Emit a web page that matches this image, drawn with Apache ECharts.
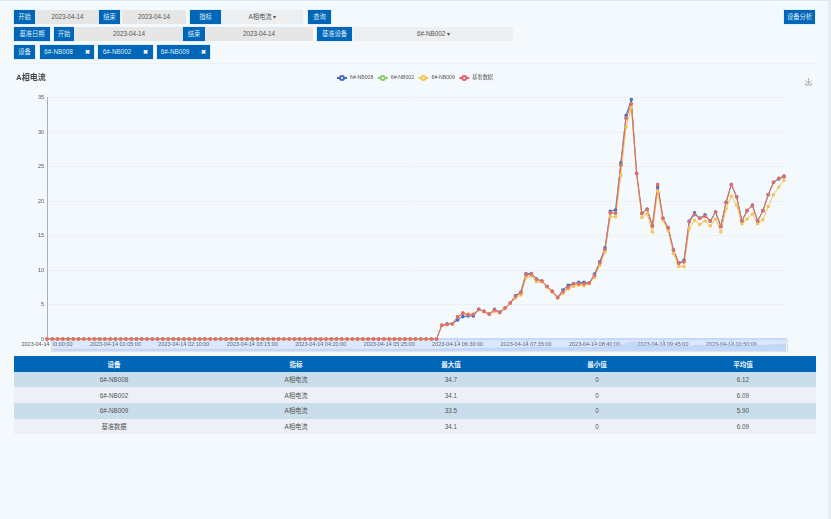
<!DOCTYPE html>
<html>
<head>
<meta charset="utf-8">
<script src="https://cdn.jsdelivr.net/npm/echarts@6/dist/echarts.min.js"></script>
<style>
  html, body { margin: 0; padding: 0; width: 831px; height: 519px; overflow: hidden; background: #f4f9fd; }
  body { font-family: "Liberation Sans", "Noto Sans CJK SC", sans-serif; color: #555; font-size: 6.3px; }
  .edge-top { position: absolute; left: 0; top: 0; width: 831px; height: 1px; background: #e3e8ed; }
  .edge-right { position: absolute; left: 828px; top: 0; width: 3px; height: 519px; background: #e8edf2; }
  .sep { position: absolute; left: 14px; top: 63px; width: 802px; height: 1px; background: #eef2f6; }
  .box { position: absolute; height: 14px; line-height: 14px; text-align: center; white-space: nowrap; }
  .btn { background: #0067b8; color: #dfeaf5; box-shadow: 0 0 0 .5px #cfe2f5; }
  .inp { background: #e6e6e6; color: #555; }
  .sel { background: #eceef0; color: #555; }
  .tag b { color: #fff; margin-left: 12px; font-size: 6px; }
  #chart { position: absolute; left: 0; top: 64px; width: 831px; height: 291px; }
  table { position: absolute; left: 14px; top: 355.5px; width: 802px; border-collapse: collapse; table-layout: fixed; }
  th { background: #0067b8; color: #f0f6fc; height: 16px; padding: 0; font-weight: 700; font-size: 6.5px; }
  td { height: 15.7px; padding: 0; text-align: center; font-size: 6.3px; color: #555; }
  tr:nth-child(odd) td { background: #c9ddea; }
  tr:nth-child(even) td { background: #edf1f7; }
</style>
</head>
<body>
<div class="edge-top"></div>
<div class="edge-right"></div>
<div class="sep"></div>
<div id="toolbar"></div>
<div id="chart"></div>
<table id="stats"></table>
<script>
var seriesNames = ['6#-NB008', '6#-NB002', '6#-NB009', '基准数据']
var seriesColors = ['#4a68c4', '#8fc96a', '#f5c453', '#e8636b']

var startHour = 0
var stepMinutes = 5
var pointCount = 141

var nb008 = [
  0,0,0,0,0,0,0,0,0,0,0,0,0,0,0,0,0,0,0,0,0,0,0,0,0,
  0,0,0,0,0,0,0,0,0,0,0,0,0,0,0,0,0,0,0,0,0,0,0,0,0,
  0,0,0,0,0,0,0,0,0,0,0,0,0,0,0,0,0,0,0,0,0,0,0,0,0,
  2.0,2.2,2.2,2.75,3.25,3.35,3.35,4.3,4.0,3.6,4.3,3.9,4.5,5.2,6.3,6.8,
  9.45,9.5,8.7,8.4,7.6,6.9,6.0,7.1,7.8,8.0,8.2,8.2,8.1,9.4,11.2,13.2,
  18.5,18.7,25.5,32.4,34.7,24.0,18.2,18.8,16.4,22.0,17.5,16.1,12.9,11.0,11.4,
  17.1,18.3,17.5,18.0,17.1,18.4,16.3,19.8,22.4,20.6,17.1,18.6,19.4,17.1,18.6,
  20.9,22.7,23.2,23.5
]
var nb002 = [
  0,0,0,0,0,0,0,0,0,0,0,0,0,0,0,0,0,0,0,0,0,0,0,0,0,
  0,0,0,0,0,0,0,0,0,0,0,0,0,0,0,0,0,0,0,0,0,0,0,0,0,
  0,0,0,0,0,0,0,0,0,0,0,0,0,0,0,0,0,0,0,0,0,0,0,0,0,
  2.0,2.1,2.2,3.2,3.75,3.5,3.55,4.3,4.0,3.6,4.2,3.85,4.5,5.2,6.2,6.7,
  9.3,9.4,8.65,8.4,7.6,6.9,6.0,6.85,7.5,8.0,8.0,8.0,8.1,9.2,11.0,13.0,
  18.3,18.25,25.2,32.0,34.1,24.0,18.2,18.8,16.4,22.4,17.5,16.1,12.9,11.0,11.2,
  17.0,18.05,17.5,17.8,17.1,18.4,16.3,19.8,22.4,20.6,17.1,18.6,19.3,17.1,18.6,
  20.9,22.7,23.3,23.6
]
var nb009 = [
  0,0,0,0,0,0,0,0,0,0,0,0,0,0,0,0,0,0,0,0,0,0,0,0,0,
  0,0,0,0,0,0,0,0,0,0,0,0,0,0,0,0,0,0,0,0,0,0,0,0,0,
  0,0,0,0,0,0,0,0,0,0,0,0,0,0,0,0,0,0,0,0,0,0,0,0,0,
  2.0,2.1,2.2,3.2,3.75,3.6,3.6,4.3,4.0,3.6,4.0,3.8,4.4,5.1,5.9,6.4,
  8.9,9.1,8.3,8.3,7.5,6.8,5.9,6.6,7.2,7.6,7.8,7.7,8.0,8.9,10.7,12.6,
  17.7,17.7,23.7,30.7,33.5,24.0,17.6,18.2,15.5,21.4,17.2,15.7,12.4,10.5,10.5,
  16.0,17.2,16.6,17.1,16.4,17.4,15.5,18.9,20.7,19.4,16.7,17.4,18.1,16.7,17.3,
  19.2,20.9,22.0,23.0
]
var baseline = [
  0,0,0,0,0,0,0,0,0,0,0,0,0,0,0,0,0,0,0,0,0,0,0,0,0,
  0,0,0,0,0,0,0,0,0,0,0,0,0,0,0,0,0,0,0,0,0,0,0,0,0,
  0,0,0,0,0,0,0,0,0,0,0,0,0,0,0,0,0,0,0,0,0,0,0,0,0,
  2.0,2.1,2.2,3.2,3.75,3.5,3.55,4.3,4.0,3.6,4.2,3.85,4.5,5.2,6.2,6.7,
  9.3,9.4,8.65,8.4,7.6,6.9,6.0,6.85,7.5,8.0,8.0,8.0,8.1,9.2,11.0,13.0,
  18.3,18.25,25.2,32.0,34.1,24.0,18.2,18.8,16.4,22.4,17.5,16.1,12.9,11.0,11.2,
  17.0,18.05,17.5,17.8,17.1,18.4,16.3,19.8,22.4,20.6,17.1,18.6,19.3,17.1,18.6,
  20.9,22.7,23.3,23.6
]

var tableHead = ['设备', '指标', '最大值', '最小值', '平均值']
var tableRows = [
  ['6#-NB008', 'A相电流', '34.7', '0', '6.12'],
  ['6#-NB002', 'A相电流', '34.1', '0', '6.09'],
  ['6#-NB009', 'A相电流', '33.5', '0', '5.90'],
  ['基准数据', 'A相电流', '34.1', '0', '6.09']
]
var columnWidths = [200, 164, 146, 146, 146]

// left, top, width, class, text
var toolbarItems = [
  [14, 9.5, 21, 'btn', '开始'], [36, 9.5, 63, 'inp', '2023-04-14'], [99, 9.5, 21, 'btn', '结束'], [122, 9.5, 64, 'inp', '2023-04-14'],
  [190, 9.5, 31, 'btn', '指标'], [222, 9.5, 81, 'sel', 'A相电流 ▾'], [308, 9.5, 23, 'btn', '查询'], [784, 9.5, 31, 'btn', '设备分析'],
  [14, 27, 36, 'btn', '基准日期'], [54, 27, 20, 'btn', '开始'], [75, 27, 108, 'inp', '2023-04-14'], [183, 27, 22, 'btn', '结束'],
  [205, 27, 108, 'inp', '2023-04-14'], [317, 27, 35, 'btn', '基准设备'], [354, 27, 159, 'sel', '6#-NB002 ▾'],
  [14, 45, 21, 'btn', '设备'], [40, 45, 54, 'btn tag', '6#-NB008<b>✖</b>'], [98, 45, 55, 'btn tag', '6#-NB002<b>✖</b>'], [157, 45, 53, 'btn tag', '6#-NB009<b>✖</b>']
]

var toolbar = document.getElementById('toolbar')
toolbarItems.forEach(function (item) {
  var el = document.createElement('div')
  el.className = 'box ' + item[3]
  el.style.left = item[0] + 'px'
  el.style.top = item[1] + 'px'
  el.style.width = item[2] + 'px'
  el.innerHTML = item[4]
  toolbar.appendChild(el)
})

var html = '<colgroup>' + columnWidths.map(function (w) { return '<col style="width:' + w + 'px">' }).join('') + '</colgroup>'
html += '<thead><tr>' + tableHead.map(function (t) { return '<th>' + t + '</th>' }).join('') + '</tr></thead><tbody>'
tableRows.forEach(function (row) {
  html += '<tr>' + row.map(function (t) { return '<td>' + t + '</td>' }).join('') + '</tr>'
})
document.getElementById('stats').innerHTML = html + '</tbody>'

var times = []
for (var i = 0; i < pointCount; i++) {
  var mins = startHour * 60 + i * stepMinutes
  var hh = String(Math.floor(mins / 60)).padStart(2, '0')
  var mm = String(mins % 60).padStart(2, '0')
  times.push('2023-04-14 ' + hh + ':' + mm + ':00')
}

var allValues = [nb008, nb002, nb009, baseline]
var fontFamily = '"Liberation Sans", "Noto Sans CJK SC", sans-serif'

var myChart = echarts.init(document.getElementById('chart'))
myChart.setOption({
  animation: false,
  color: seriesColors,
  title: {
    text: 'A相电流',
    left: 16,
    top: 10,
    padding: 0,
    textStyle: { fontSize: 8, fontWeight: 'bold', color: '#464646', fontFamily: fontFamily }
  },
  legend: {
    data: seriesNames,
    top: 11,
    left: 336,
    padding: 0,
    itemWidth: 10,
    itemHeight: 5,
    itemGap: 3.4,
    textStyle: { fontSize: 5.2, color: '#555', fontFamily: fontFamily, padding: [0, 0, 0, -2] }
  },
  toolbox: {
    right: 17,
    top: 11.5,
    padding: 0,
    itemSize: 7,
    iconStyle: { borderColor: '#a8a8a8' },
    feature: { saveAsImage: { show: true, title: '' } }
  },
  grid: { left: 47, right: 47, top: 33.5, bottom: 16 },
  xAxis: {
    type: 'category',
    boundaryGap: false,
    data: times,
    axisLine: { lineStyle: { color: '#aab1bc', width: 1 } },
    axisTick: { interval: 12, length: 3, lineStyle: { color: '#aab1bc' } },
    axisLabel: { interval: 12, fontSize: 5.5, color: '#555', margin: 3, fontFamily: fontFamily, hideOverlap: false, showMinLabel: true }
  },
  yAxis: {
    type: 'value',
    min: 0,
    max: 35,
    interval: 5,
    axisLine: { show: true, lineStyle: { color: '#aab1bc', width: 1 } },
    axisTick: { show: false },
    axisLabel: { fontSize: 5.5, color: '#555', margin: 3, fontFamily: fontFamily },
    splitLine: { lineStyle: { color: '#edf1f5', width: 1 } }
  },
  dataZoom: [{
    type: 'slider',
    xAxisIndex: 0,
    start: 0,
    end: 100,
    left: 48.5,
    right: 46,
    top: 274,
    height: 12,
    showDetail: false,
    borderColor: '#d5ddec',
    backgroundColor: 'rgba(0,0,0,0)',
    fillerColor: 'rgba(120,165,250,0.2)',
    handleIcon: 'path://M0,0H1V9H0Z',
    handleSize: '110%',
    handleStyle: { color: '#fff', borderColor: '#c4cedd', borderWidth: 0.5 },
    moveHandleSize: 2,
    moveHandleStyle: { color: '#c8d8f8', opacity: 1 },
    dataBackground: {
      lineStyle: { color: '#c5d6f5', width: 0.5 },
      areaStyle: { color: '#b8cdf5', opacity: 0.5 }
    },
    selectedDataBackground: {
      lineStyle: { color: '#c5d6f5', width: 0.5 },
      areaStyle: { color: '#b8cdf5', opacity: 0.5 }
    }
  }],
  series: seriesNames.map(function (name, idx) {
    return {
      name: name,
      type: 'line',
      z: 5,
      data: allValues[idx],
      symbol: 'emptyCircle',
      symbolSize: 1.6,
      showAllSymbol: true,
      lineStyle: { width: 1 },
      itemStyle: { borderWidth: 0.6 }
    }
  })
})
</script>
</body>
</html>
